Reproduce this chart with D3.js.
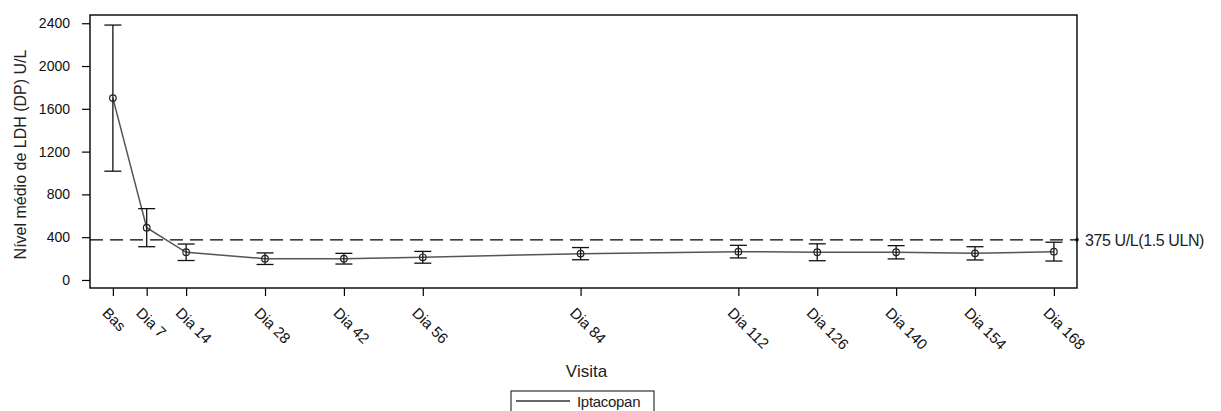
<!DOCTYPE html>
<html>
<head>
<meta charset="utf-8">
<script src="https://cdn.jsdelivr.net/npm/d3@7"></script>
<style>
  body { margin: 0; background: #fff; }
  svg { display: block; font-family: "Liberation Sans", Arial, sans-serif; }
  .axis path, .axis line { stroke: #000; stroke-width: 1.2; }
  .axis text { fill: #111; font-size: 14px; }
  .x.axis text { font-size: 15px; }
</style>
</head>
<body>
<svg width="1221" height="411"></svg>
<script>
// Visits, study day used for the x position, mean LDH and SD (U/L)
var visits = ["Bas", "Dia 7", "Dia 14", "Dia 28", "Dia 42", "Dia 56", "Dia 84",
              "Dia 112", "Dia 126", "Dia 140", "Dia 154", "Dia 168"];
var days = [1, 7, 14, 28, 42, 56, 84, 112, 126, 140, 154, 168];
var means = [1700, 489, 259, 199, 199, 212, 246, 265, 259, 259, 249, 265];
var sds = [683, 178, 77, 54, 50, 55, 57, 59, 79, 62, 62, 88];
var yTicks = [0, 400, 800, 1200, 1600, 2000, 2400];
var refValue = 375;
var refLabel = "375 U/L(1.5 ULN)";
var seriesName = "Iptacopan";

var margin = { left: 90, right: 144, top: 15, bottom: 123 }
  , width = 1221
  , height = 411
  , innerW = width - margin.left - margin.right
  , innerH = height - margin.top - margin.bottom
;

var svg = d3.select("svg")
  , g = svg.append("g").attr("transform", "translate(" + [margin.left, margin.top] + ")")
;

var x = d3.scaleLinear().domain([-3.06, 172.1]).range([0, innerW])
  , y = d3.scaleLinear().domain([-75, 2477]).range([innerH, 0])
;

var data = visits.map(function (v, i) {
  return { visit: v, day: days[i], mean: means[i], sd: sds[i] };
});

// axes
g.append("g")
    .attr("class", "y axis")
    .call(d3.axisLeft(y).tickValues(yTicks).tickSize(8).tickPadding(12).tickFormat(d3.format("d")))
  .select(".domain").remove();

var xAxisG = g.append("g")
    .attr("class", "x axis")
    .attr("transform", "translate(0," + innerH + ")")
    .call(d3.axisBottom(x).tickValues(days).tickSize(8)
      .tickFormat(function (d, i) { return visits[i]; }));
xAxisG.select(".domain").remove();
xAxisG.selectAll(".tick text")
    .attr("x", 0).attr("y", 0).attr("dy", 0)
    .attr("text-anchor", "start")
    .attr("transform", "translate(-12,26) rotate(45)");

// reference line
g.append("line")
    .attr("x1", 0).attr("x2", innerW)
    .attr("y1", y(refValue)).attr("y2", y(refValue))
    .attr("stroke", "#000").attr("stroke-width", 1.2)
    .attr("stroke-dasharray", "13,7");
g.append("circle")
    .attr("cx", innerW).attr("cy", y(refValue)).attr("r", 1.8).attr("fill", "#000");
g.append("text")
    .attr("x", innerW + 8).attr("y", y(refValue) + 6)
    .attr("font-size", "16px").attr("fill", "#222")
    .attr("letter-spacing", "-0.4")
    .text(refLabel);

// mean line
var line = d3.line()
    .x(function (d) { return x(d.day); })
    .y(function (d) { return y(d.mean); });
g.append("path")
    .datum(data)
    .attr("d", line)
    .attr("fill", "none").attr("stroke", "#555").attr("stroke-width", 1.5);

// error bars
var bars = g.selectAll(".err").data(data).enter().append("g").attr("class", "err")
    .attr("stroke", "#111").attr("stroke-width", 1.3);
bars.append("line")
    .attr("x1", function (d) { return x(d.day); })
    .attr("x2", function (d) { return x(d.day); })
    .attr("y1", function (d) { return y(d.mean - d.sd); })
    .attr("y2", function (d) { return y(d.mean + d.sd); });
[-1, 1].forEach(function (s) {
  bars.append("line")
      .attr("x1", function (d) { return x(d.day) - 8.5; })
      .attr("x2", function (d) { return x(d.day) + 8.5; })
      .attr("y1", function (d) { return y(d.mean + s * d.sd); })
      .attr("y2", function (d) { return y(d.mean + s * d.sd); });
});
g.selectAll(".pt").data(data).enter().append("circle")
    .attr("class", "pt")
    .attr("cx", function (d) { return x(d.day); })
    .attr("cy", function (d) { return y(d.mean); })
    .attr("r", 3.3)
    .attr("fill", "none").attr("stroke", "#222").attr("stroke-width", 1.2);

// frame
g.append("rect")
    .attr("width", innerW).attr("height", innerH)
    .attr("fill", "none").attr("stroke", "#000").attr("stroke-width", 1.4);

// axis titles
svg.append("text")
    .attr("transform", "translate(26," + (margin.top + innerH / 2 + 3) + ") rotate(-90)")
    .attr("text-anchor", "middle").attr("font-size", "16px").attr("fill", "#222")
    .text("Nível médio de LDH (DP) U/L");
svg.append("text")
    .attr("x", margin.left + innerW / 2 + 3).attr("y", 377)
    .attr("text-anchor", "middle").attr("font-size", "17px").attr("fill", "#222")
    .text("Visita");

// legend
var legendG = svg.append("g").attr("transform", "translate(511,391)");
legendG.append("rect")
    .attr("width", 143).attr("height", 24)
    .attr("fill", "#fff").attr("stroke", "#333").attr("stroke-width", 1.2);
legendG.append("line")
    .attr("x1", 5).attr("x2", 59).attr("y1", 10).attr("y2", 10)
    .attr("stroke", "#333").attr("stroke-width", 1.3);
legendG.append("text")
    .attr("x", 66).attr("y", 15.5)
    .attr("font-size", "15px").attr("fill", "#222")
    .attr("letter-spacing", "-0.3")
    .text(seriesName);
</script>
</body>
</html>
